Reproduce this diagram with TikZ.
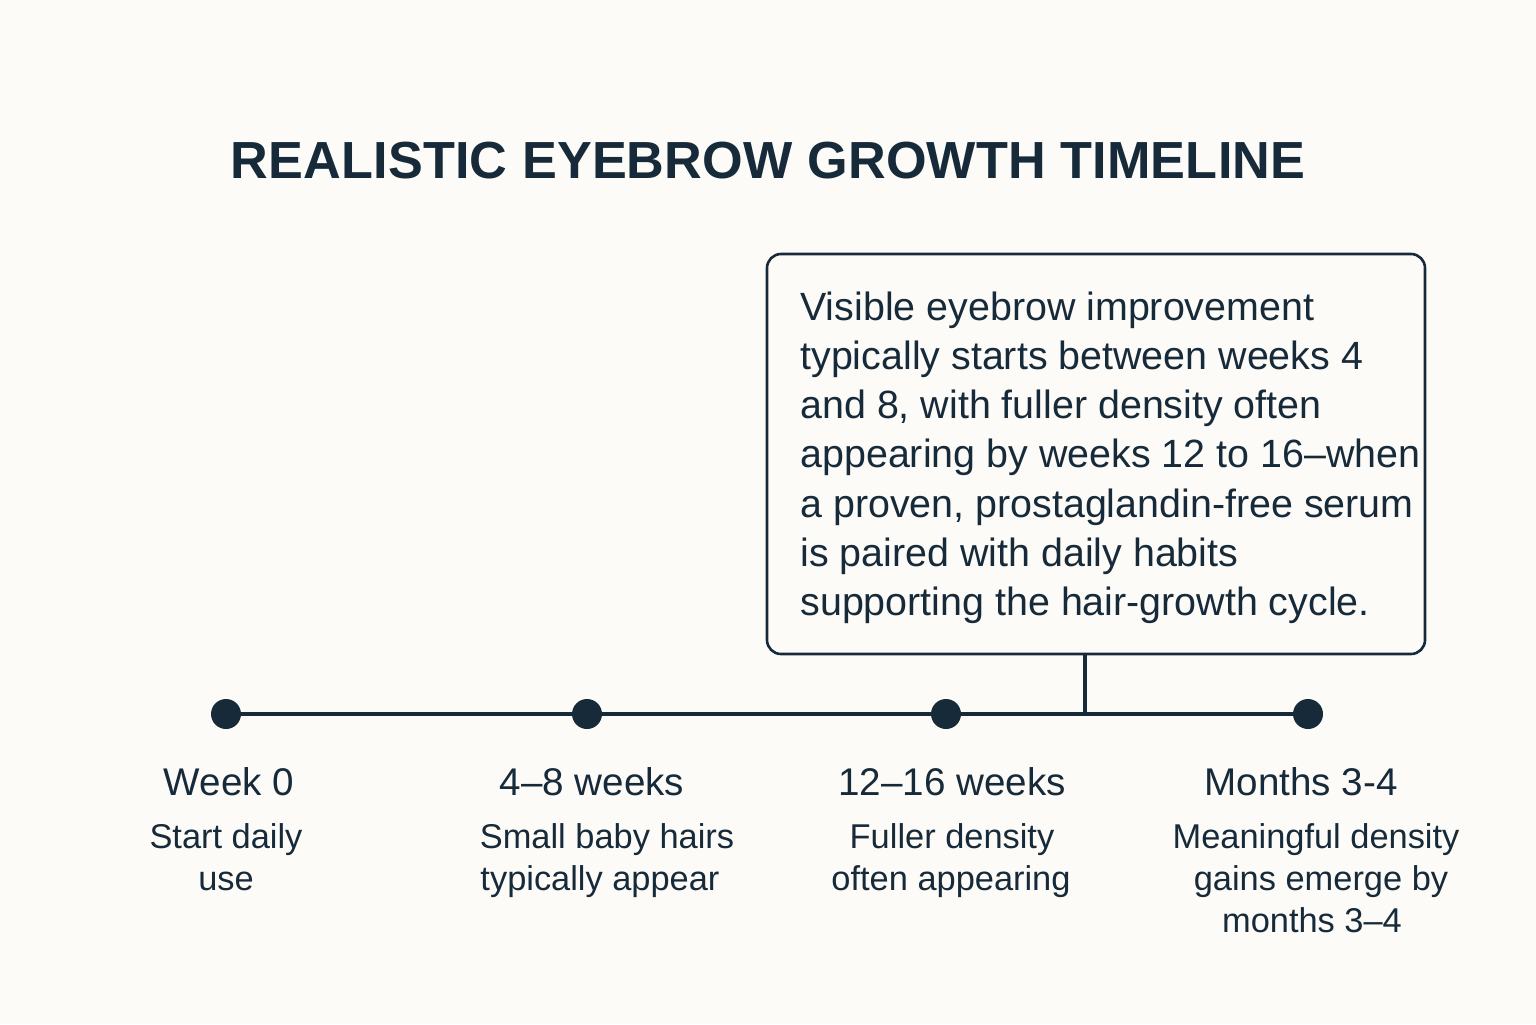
\documentclass[tikz,border=0pt]{standalone}
\usepackage{fontspec}
\setmainfont{Liberation Sans}
\newfontfamily\titlefont[LetterSpace=0.3]{Liberation Sans Bold}
\definecolor{ink}{HTML}{172A3A}
\definecolor{paper}{HTML}{FCFBF7}
\begin{document}
\begin{tikzpicture}[x=0.5pt,y=-0.5pt,
  title/.style={font=\titlefont\fontsize{26.1}{30}\selectfont, text=ink, inner sep=0pt, anchor=base},
  boxline/.style={font=\fontsize{19.7}{24}\selectfont, text=ink, inner sep=0pt, anchor=base west},
  head/.style={font=\fontsize{19.3}{22}\selectfont, text=ink, inner sep=0pt, anchor=base},
  desc/.style={font=\fontsize{17.2}{20}\selectfont, text=ink, inner sep=0pt, anchor=base},
  dot/.style={circle, fill=ink, inner sep=0pt, minimum size=15pt},
  conn/.style={draw=ink, line width=1.6pt}]
\fill[paper] (0,0) rectangle (1536,1024);
\useasboundingbox (0,0) rectangle (1536,1024);
\node[title] (t) at (768,178) {REALISTIC EYEBROW GROWTH TIMELINE};
% callout box
\node[draw=ink, line width=1.3pt, rounded corners=7pt, minimum width=329pt, minimum height=200pt, inner sep=0pt] (box) at (1096,454) {};
\node[boxline] (b1) at (800,320) {Visible eyebrow improvement};
\node[boxline] (b2) at (800,369.3) {typically starts between weeks 4};
\node[boxline] (b3) at (800,418.6) {and 8, with fuller density often};
\node[boxline] (b4) at (800,467.9) {appearing by weeks 12 to 16\textendash when};
\node[boxline] (b5) at (800,517.2) {a proven, prostaglandin-free serum};
\node[boxline] (b6) at (800,566.5) {is paired with daily habits};
\node[boxline] (b7) at (800,615.8) {supporting the hair-growth cycle.};
% timeline
\node[dot] (p1) at (226,714) {};
\node[dot] (p2) at (587,714) {};
\node[dot] (p3) at (946,714) {};
\node[dot] (p4) at (1308,714) {};
\coordinate (j) at (1085,714);
\draw[conn] (p1) -- (p2);
\draw[conn] (p2) -- (p3);
\draw[conn] (p3) -- (p4);
\draw[conn] (box.south -| j) -- (j);
% labels
\node[head] (h1) at (229,795) {Week 0};
\node[desc] (d1a) at (226,848) {Start daily};
\node[desc] (d1b) at (226,890) {use};
\node[head] (h2) at (592,795) {4\textendash8 weeks};
\node[desc] (d2a) at (607,848) {Small baby hairs};
\node[desc] (d2b) at (600,890) {typically appear};
\node[head] (h3) at (952,795) {12\textendash16 weeks};
\node[desc] (d3a) at (952,848) {Fuller density};
\node[desc] (d3b) at (951,890) {often appearing};
\node[head] (h4) at (1301,795) {Months 3-4};
\node[desc] (d4a) at (1316,848) {Meaningful density};
\node[desc] (d4b) at (1321,890) {gains emerge by};
\node[desc] (d4c) at (1312,932) {months 3\textendash4};
\end{tikzpicture}
\end{document}
